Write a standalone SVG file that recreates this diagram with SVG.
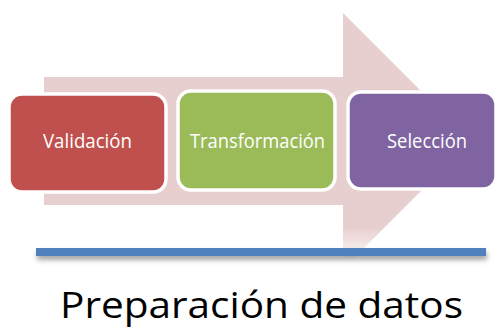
<svg xmlns="http://www.w3.org/2000/svg" width="497" height="328" viewBox="0 0 497 328">
  <style>
    .box { stroke: #ffffff; stroke-width: 3.5; }
    .lbl { font-family: "Open Sans", "Noto Sans", "Liberation Sans", sans-serif; font-size: 19.5px; fill: #ffffff; text-anchor: middle; }
    .title { font-family: "Open Sans", "Noto Sans", "Liberation Sans", sans-serif; font-size: 36px; fill: #000000; }
  </style>
  <defs>
    <linearGradient id="arrowFade" gradientUnits="userSpaceOnUse" x1="0" y1="228" x2="0" y2="262">
      <stop offset="0" stop-color="#E8CFCF" stop-opacity="1"/>
      <stop offset="1" stop-color="#E8CFCF" stop-opacity="0"/>
    </linearGradient>
    <filter id="shadow" x="-5%" y="-100%" width="110%" height="400%">
      <feDropShadow dx="1" dy="4" stdDeviation="2.5" flood-color="#000000" flood-opacity="0.35"/>
    </filter>
  </defs>

  <g id="arrow">
    <path d="M44,77 H343 V13 L471,141 L343,269 V205 H44 Z" fill="url(#arrowFade)"/>
  </g>

  <g id="connectors">
    <rect x="36" y="248" width="450" height="8" fill="#4F81BD" filter="url(#shadow)"/>
  </g>

  <g id="validacion">
    <rect class="box" x="9" y="94" width="157" height="98" rx="13" fill="#C0504D"/>
    <text class="lbl" x="87.5" y="148" textLength="89" lengthAdjust="spacingAndGlyphs">Validación</text>
  </g>

  <g id="transformacion">
    <rect class="box" x="178" y="91" width="157" height="99" rx="13" fill="#9BBB59"/>
    <text class="lbl" x="257.5" y="148" textLength="135" lengthAdjust="spacingAndGlyphs">Transformación</text>
  </g>

  <g id="seleccion">
    <rect class="box" x="348" y="92" width="148" height="97" rx="13" fill="#8064A2"/>
    <text class="lbl" x="427" y="148" textLength="80" lengthAdjust="spacingAndGlyphs">Selección</text>
  </g>

  <g id="title">
    <text class="title" x="60" y="318" textLength="403" lengthAdjust="spacingAndGlyphs">Preparación de datos</text>
  </g>
</svg>
